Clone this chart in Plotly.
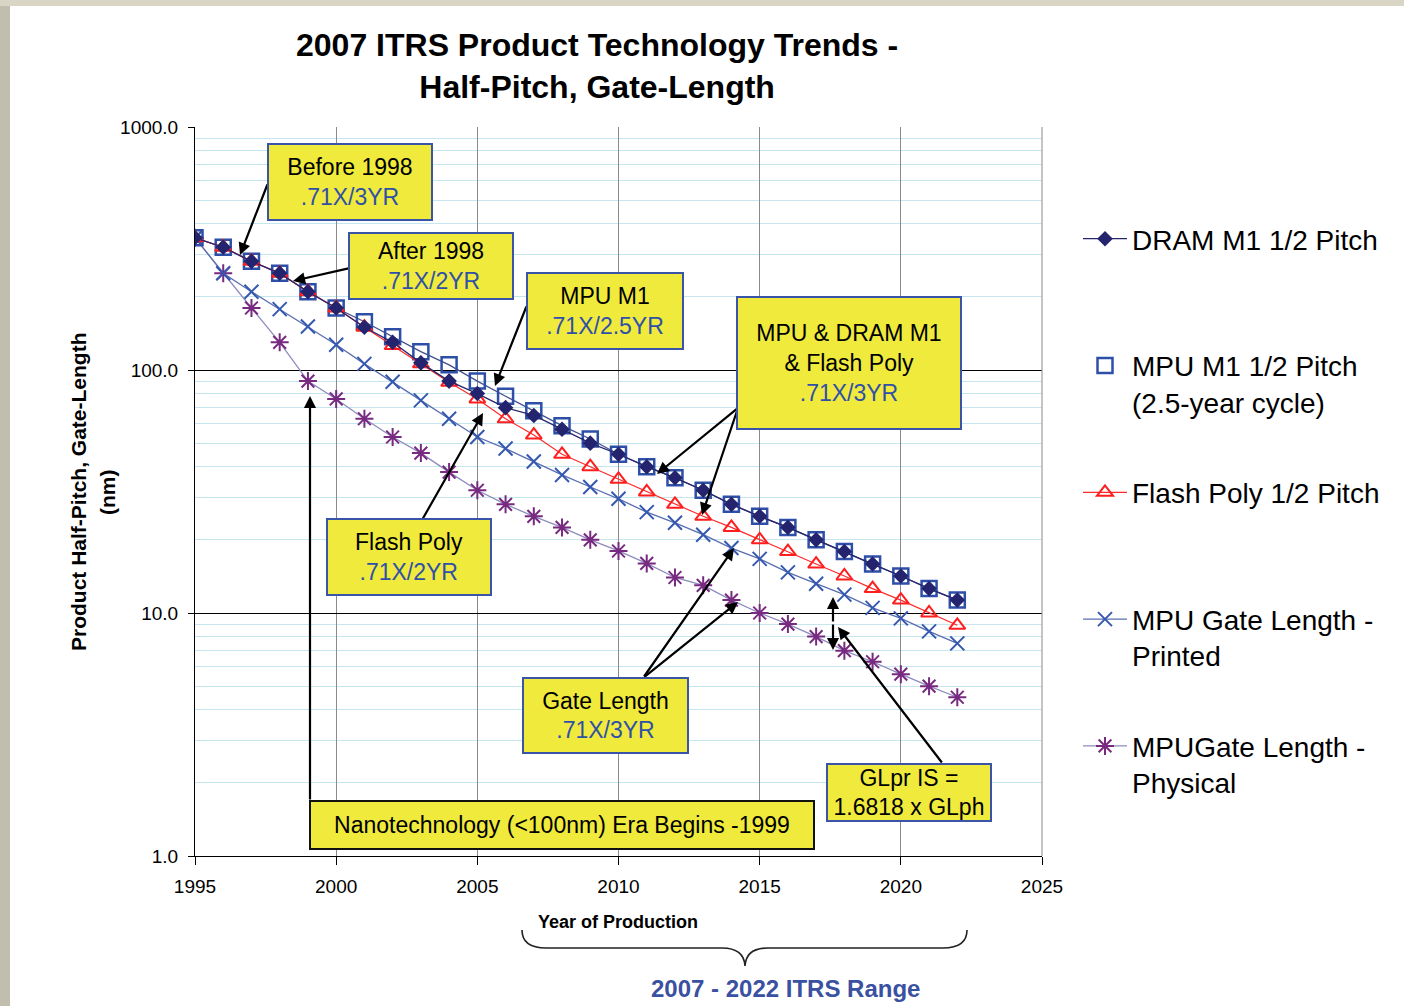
import plotly.graph_objects as go

# ---------------- data ----------------
years = list(range(1995, 2023))
dram_m1 = [350, 320, 280, 250, 210, 180, 150, 130, 107, 90, 80, 70, 65, 57, 50, 45, 40, 36, 32, 28, 25, 22.5, 20, 17.9, 15.9, 14.2, 12.6, 11.3]
mpu_m1 = [350, 320, 280, 250, 210, 180, 158, 137, 119, 105, 90, 78, 68, 59, 52, 45, 40, 36, 32, 28, 25, 22.5, 20, 17.9, 15.9, 14.2, 12.6, 11.3]
flash_poly = [350, 320, 280, 250, 210, 180, 150, 126, 106, 89, 76, 63, 54, 45, 40, 35.5, 31.5, 28, 25, 22.5, 20, 17.9, 15.9, 14.2, 12.6, 11.3, 10, 8.9]
gl_printed = [350, 250, 210, 178, 151, 127, 106, 89.5, 75, 63, 53, 47.5, 42, 37, 33, 29.5, 26, 23.5, 21, 18.5, 16.7, 14.7, 13.2, 11.9, 10.5, 9.5, 8.4, 7.5]
gl_physical = [350, 250, 180, 130, 90, 76, 63, 53, 45.5, 38, 32, 28, 25, 22.5, 20, 18, 16, 14, 13, 11.3, 10, 9, 8, 7, 6.3, 5.6, 5.0, 4.5]

x_ticks = [1995, 2000, 2005, 2010, 2015, 2020, 2025]
y_ticks = [1, 10, 100, 1000]

# ---------------- layout geometry (pixels) ----------------
W, H = 1404, 1006
L, R, T, B = 195, 1042, 127, 856
X0, X1 = 1995, 2025


def pxx(p):
    return (p - L) / (R - L)


def pxy(p):
    return (B - p) / (B - T)


def yr(p):
    return X0 + (p - L) * (X1 - X0) / (R - L)


def lg(p):
    return 3 * (B - p) / (B - T)


FONT = "Liberation Sans, Arial, sans-serif"
YELLOW = "#EFEA3C"
BLUE_TXT = "#3050A8"
NB = "\u00a0"

fig = go.Figure()

fig.add_trace(go.Scatter(x=years, y=gl_physical, name="MPUGate Length -<br>Physical",
                         mode="lines+markers", legendrank=5, legendgroup="e",
                         line=dict(color="#8C8CBE", width=1.3),
                         marker=dict(symbol="asterisk-open", size=15, color="#772A80",
                                     line=dict(color="#772A80", width=2))))
fig.add_trace(go.Scatter(x=years, y=gl_printed, name="MPU Gate Length -<br>Printed",
                         mode="lines+markers", legendrank=4, legendgroup="d",
                         line=dict(color="#5A6EB2", width=1.3),
                         marker=dict(symbol="x-thin-open", size=14, color="#3558B0",
                                     line=dict(color="#3558B0", width=2))))
fig.add_trace(go.Scatter(x=years, y=mpu_m1, mode="lines", showlegend=False, hoverinfo="skip",
                         line=dict(color="#44508E", width=1.3)))
fig.add_trace(go.Scatter(x=years, y=mpu_m1, name="MPU M1 1/2 Pitch<br>(2.5-year cycle)",
                         mode="markers", legendrank=2, legendgroup="b",
                         marker=dict(symbol="square-open", size=15, color="#2E4FA8",
                                     line=dict(color="#2E4FA8", width=2.5))))
fig.add_trace(go.Scatter(x=years, y=flash_poly, name="Flash Poly 1/2 Pitch<br>" + NB,
                         mode="lines+markers", legendrank=3, legendgroup="c",
                         line=dict(color="#FF2A2A", width=1.2),
                         marker=dict(symbol="triangle-up-open", size=14, color="#FF1E1E",
                                     line=dict(color="#FF1E1E", width=2))))
fig.add_trace(go.Scatter(x=years, y=dram_m1, name="DRAM M1 1/2 Pitch<br>" + NB,
                         mode="lines+markers", legendrank=1, legendgroup="a",
                         line=dict(color="#26266E", width=1.3),
                         marker=dict(symbol="diamond", size=12, color="#23236E")))

# ---------------- annotations: boxes ----------------
ann = []


def box(text, x0, y0, x1, y1, border="#3A54A8"):
    bw = 2
    ann.append(dict(xref="paper", yref="paper", x=pxx((x0 + x1) / 2), y=pxy((y0 + y1) / 2),
                    xanchor="center", yanchor="middle", text=text, showarrow=False,
                    width=(x1 - x0) - 2 * bw, height=(y1 - y0) - 2 * bw, borderpad=0,
                    bgcolor=YELLOW, bordercolor=border, borderwidth=bw,
                    font=dict(family=FONT, size=23, color="black"), align="center"))


def blue(t):
    return f"<span style='color:{BLUE_TXT}'>{t}</span>"


def arrow(tx, ty, hx, hy):
    ann.append(dict(xref="x", yref="y", axref="x", ayref="y",
                    x=yr(hx), y=lg(hy), ax=yr(tx), ay=lg(ty), text="", showarrow=True,
                    arrowhead=2, arrowsize=1.1, arrowwidth=2.2, arrowcolor="black",
                    standoff=0, startstandoff=0))


arrow(268, 183, 240, 255)
arrow(350, 268, 293, 281)
arrow(527, 305, 495, 386)
arrow(738, 408, 657, 474)
arrow(738, 408, 702, 515)
arrow(422, 520, 483, 413)
arrow(643, 678, 734, 548)
arrow(643, 678, 738, 602)
arrow(943, 764, 838, 627)
arrow(833, 623, 833, 597)
arrow(833, 623, 833, 650)
arrow(310, 801, 310, 396)

box("Before 1998<br>" + blue(".71X/3YR"), 267, 143, 433, 221)
box("After 1998<br>" + blue(".71X/2YR"), 348, 232, 514, 300)
box("MPU M1<br>" + blue(".71X/2.5YR"), 526, 272, 684, 350)
box("MPU &amp; DRAM M1<br>&amp; Flash Poly<br>" + blue(".71X/3YR"), 736, 296, 962, 430)
box("Flash Poly<br>" + blue(".71X/2YR"), 326, 518, 492, 596)
box("Gate Length<br>" + blue(".71X/3YR"), 522, 677, 689, 754)
box("GLpr IS =<br>1.6818 x GLph", 826, 763, 992, 822)
box("Nanotechnology (&lt;100nm) Era Begins -1999", 309, 800, 815, 850, border="#111111")

# titles / labels
ann.append(dict(xref="paper", yref="paper", x=pxx(597), y=pxy(66), xanchor="center", yanchor="middle",
                showarrow=False, text="<b>2007 ITRS Product Technology Trends -<br>Half-Pitch, Gate-Length</b>",
                font=dict(family=FONT, size=32, color="black")))
ann.append(dict(xref="paper", yref="paper", x=pxx(78), y=pxy(492), xanchor="center", yanchor="middle",
                showarrow=False, textangle=-90, text="<b>Product Half-Pitch, Gate-Length</b>",
                font=dict(family=FONT, size=21, color="black")))
ann.append(dict(xref="paper", yref="paper", x=pxx(107), y=pxy(492), xanchor="center", yanchor="middle",
                showarrow=False, textangle=-90, text="<b>(nm)</b>",
                font=dict(family=FONT, size=21, color="black")))
ann.append(dict(xref="paper", yref="paper", x=pxx(618), y=pxy(922), xanchor="center", yanchor="middle",
                showarrow=False, text="<b>Year of Production</b>",
                font=dict(family=FONT, size=18, color="black")))
ann.append(dict(xref="paper", yref="paper", x=pxx(785), y=pxy(988), xanchor="center", yanchor="middle",
                showarrow=False, text="<b>2007 - 2022 ITRS Range</b>",
                font=dict(family=FONT, size=24, color="#3A50A0")))

# ---------------- shapes ----------------
shapes = []
shapes.append(dict(type="rect", xref="paper", yref="paper", layer="below",
                   x0=pxx(0), x1=pxx(10), y0=pxy(H), y1=pxy(0),
                   fillcolor="#C2BEAE", line=dict(width=0)))
shapes.append(dict(type="rect", xref="paper", yref="paper", layer="below",
                   x0=pxx(0), x1=pxx(W), y0=pxy(6), y1=pxy(0),
                   fillcolor="#DAD6C6", line=dict(width=0)))


def P(x, y):
    return f"{pxx(x):.5f},{pxy(y):.5f}"


brace = (f"M {P(522, 930)} Q {P(522, 948)} {P(546, 948)} L {P(722, 948)} "
         f"Q {P(744, 948)} {P(745, 966)} Q {P(746, 948)} {P(768, 948)} "
         f"L {P(943, 948)} Q {P(967, 948)} {P(967, 930)}")
shapes.append(dict(type="path", xref="paper", yref="paper", path=brace,
                   line=dict(color="#222222", width=1.6)))
shapes.append(dict(type="line", xref="paper", yref="paper", x0=1, x1=1, y0=0, y1=1,
                   line=dict(color="#8A8A8A", width=1)))

fig.update_layout(
    width=W, height=H,
    margin=dict(l=L, r=W - R, t=T, b=H - B, autoexpand=False),
    paper_bgcolor="white", plot_bgcolor="white",
    font=dict(family=FONT, color="black"),
    showlegend=True,
    legend=dict(x=pxx(1078), y=pxy(214), xanchor="left", yanchor="top",
                font=dict(family=FONT, size=28, color="black"),
                valign="top", tracegroupgap=51, itemwidth=44,
                bgcolor="rgba(0,0,0,0)", traceorder="grouped"),
    annotations=ann,
    shapes=shapes,
    xaxis=dict(range=[X0, X1], tickvals=x_ticks, ticktext=[str(v) for v in x_ticks],
               showgrid=True, gridcolor="#8A8A8A", gridwidth=1,
               showline=True, linecolor="black", linewidth=1, mirror=False,
               ticks="outside", ticklen=8, tickcolor="black", ticklabelstandoff=5,
               tickfont=dict(family=FONT, size=19, color="black"), zeroline=False),
    yaxis=dict(type="log", range=[0, 3], tickvals=y_ticks, ticktext=[f"{v:.1f}" for v in y_ticks],
               showgrid=True, gridcolor="black", gridwidth=1,
               showline=True, linecolor="black", linewidth=1,
               ticks="outside", ticklen=6, tickcolor="black", ticklabelstandoff=6,
               tickfont=dict(family=FONT, size=19, color="black"),
               minor=dict(showgrid=True, gridcolor="#C6E6EF", gridwidth=1, dtick="D1", ticks="")),
)

fig.write_html("out.html", config={"displayModeBar": False},
               post_script="document.body.style.margin='0px';")
